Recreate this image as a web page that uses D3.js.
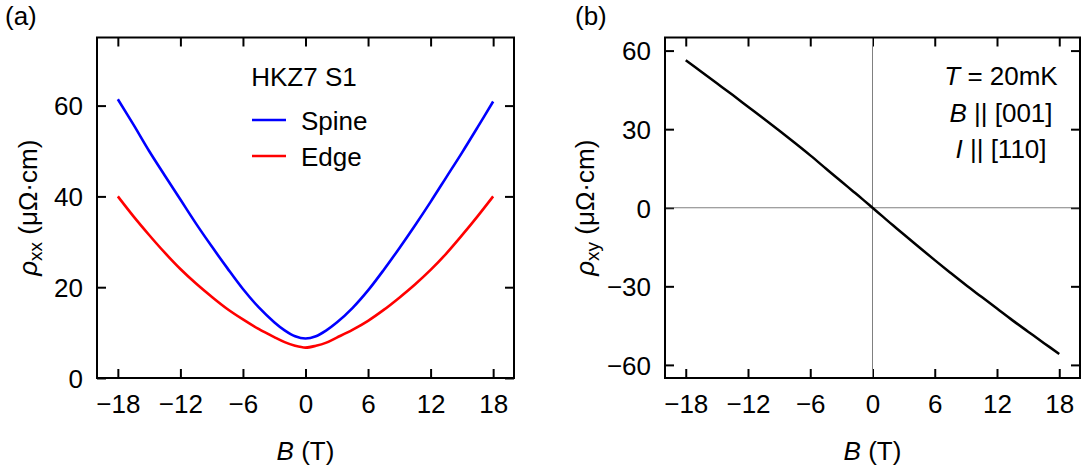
<!DOCTYPE html>
<meta charset="utf-8">
<script src="https://d3js.org/d3.v7.min.js"></script>
<style>
  body { margin: 0; background: #fff; }
  text { font-family: "Liberation Sans", Arial, sans-serif; fill: #000; }
</style>
<div id="chart"></div>
<script>
// field values (T)
var fields = [-18, -16.5, -15, -13.5, -12, -10.5, -9, -7.5, -6, -4.5, -3, -2, -1, 0,
              1, 2, 3, 4.5, 6, 7.5, 9, 10.5, 12, 13.5, 15, 16.5, 18];
// rho_xx, spine contact (uOhm cm)
var spine = [61.4, 55.8, 50.0, 44.6, 39.3, 34.0, 29.0, 24.2, 19.6, 15.6, 12.3, 10.5, 9.2, 8.7,
             9.2, 10.5, 12.2, 15.4, 19.3, 23.8, 28.6, 33.6, 38.8, 44.2, 49.6, 55.2, 60.9];
// rho_xx, edge contact
var edge = [40.0, 35.6, 31.5, 27.6, 24.0, 20.8, 17.9, 15.2, 12.9, 10.8, 9.0, 7.9, 7.1, 6.7,
            7.1, 7.8, 8.9, 10.6, 12.6, 15.0, 17.7, 20.6, 23.8, 27.4, 31.4, 35.6, 40.0];
// rho_xy
var hall = [56.3, 51.9, 47.5, 43.1, 38.6, 34.1, 29.5, 24.8, 20.0, 15.0, 10.0, 6.7, 3.4, 0,
            -3.4, -6.8, -10.1, -15.1, -20.0, -24.8, -29.5, -34.0, -38.5, -43.0, -47.3, -51.6, -55.8];

var xTicks = [-18, -12, -6, 0, 6, 12, 18];
var yTicksA = [0, 20, 40, 60];
var yTicksB = [-60, -30, 0, 30, 60];

var W = 1084, H = 472;
var svg = d3.select("#chart").append("svg")
    .attr("width", W).attr("height", H);

var fmt = function(d) { return d < 0 ? "\u2212" + Math.abs(d) : String(d); };

// draws frame, inward ticks on all four sides, labels
function panel(left, right, yDomain, yTicks) {
  var top = 37.5, bottom = 378;
  var x = d3.scaleLinear().domain([-20, 20]).range([left, right]);
  var y = d3.scaleLinear().domain(yDomain).range([bottom, top]);
  var g = svg.append("g");

  g.append("g").attr("transform", "translate(0," + bottom + ")")
    .call(d3.axisBottom(x).tickValues(xTicks).tickFormat(fmt).tickSizeInner(-9).tickSizeOuter(0).tickPadding(17));
  g.append("g").attr("transform", "translate(0," + top + ")")
    .call(d3.axisTop(x).tickValues(xTicks).tickFormat("").tickSizeInner(-9).tickSizeOuter(0));
  g.append("g").attr("transform", "translate(" + left + ",0)")
    .call(d3.axisLeft(y).tickValues(yTicks).tickFormat(fmt).tickSizeInner(-9).tickSizeOuter(0).tickPadding(14));
  g.append("g").attr("transform", "translate(" + right + ",0)")
    .call(d3.axisRight(y).tickValues(yTicks).tickFormat("").tickSizeInner(-9).tickSizeOuter(0));

  g.selectAll(".domain").remove();
  g.selectAll(".tick line").attr("stroke", "#000").attr("stroke-width", 2);
  g.selectAll(".tick text").style("font-size", "26px").attr("fill", "#000");
  g.selectAll(".tick text").filter(function() { return this.getAttribute("dy") === "0.32em"; })
    .attr("dy", "0.36em");

  g.append("rect")
    .attr("x", left).attr("y", top)
    .attr("width", right - left).attr("height", bottom - top)
    .attr("fill", "none").attr("stroke", "#000").attr("stroke-width", 2);

  g.append("text")
    .attr("x", (left + right) / 2 ).attr("y", 460)
    .attr("text-anchor", "middle").style("font-size", "26px")
    .html('<tspan font-style="italic">B</tspan> (T)');

  return { g: g, x: x, y: y, top: top, bottom: bottom };
}

// ---- panel (a)
var pa = panel(97, 514, [0, 75], yTicksA);

var lineA = d3.line()
  .x(function(d) { return pa.x(d[0]); })
  .y(function(d) { return pa.y(d[1]); })
  .curve(d3.curveCatmullRom.alpha(0.5));

pa.g.append("path")
  .datum(fields.map(function(b, i) { return [b, edge[i]]; }))
  .attr("d", lineA).attr("fill", "none").attr("stroke", "#ff0000").attr("stroke-width", 2.6);
pa.g.append("path")
  .datum(fields.map(function(b, i) { return [b, spine[i]]; }))
  .attr("d", lineA).attr("fill", "none").attr("stroke", "#0000ff").attr("stroke-width", 2.6);

pa.g.append("text").attr("x", 304).attr("y", 86)
  .attr("text-anchor", "middle").style("font-size", "26px").text("HKZ7 S1");

var legend = [{ name: "Spine", color: "#0000ff" }, { name: "Edge", color: "#ff0000" }];
legend.forEach(function(d, i) {
  var ly = 120 + i * 36;
  pa.g.append("line").attr("x1", 252).attr("x2", 286).attr("y1", ly).attr("y2", ly)
    .attr("stroke", d.color).attr("stroke-width", 2.5);
  pa.g.append("text").attr("x", 301).attr("y", ly + 9.5)
    .style("font-size", "26px").text(d.name);
});

pa.g.append("text")
  .attr("transform", "translate(37," + (pa.top + pa.bottom) / 2 + ") rotate(-90)")
  .attr("text-anchor", "middle").style("font-size", "26px")
  .html('<tspan font-style="italic">\u03C1</tspan><tspan font-size="19px" dy="5">xx</tspan><tspan dy="-5"> (\u03BC\u03A9\u00B7cm)</tspan>');

svg.append("text").attr("x", 5).attr("y", 25).style("font-size", "26px").text("(a)");

// ---- panel (b)
var pb = panel(665, 1080, [-65, 65], yTicksB);

// zero lines
pb.g.insert("line", "rect")
  .attr("x1", pb.x(0)).attr("x2", pb.x(0)).attr("y1", pb.top).attr("y2", pb.bottom)
  .attr("stroke", "#808080").attr("stroke-width", 1);
pb.g.insert("line", "rect")
  .attr("x1", 665).attr("x2", 1080).attr("y1", pb.y(0)).attr("y2", pb.y(0))
  .attr("stroke", "#808080").attr("stroke-width", 1);

var lineB = d3.line()
  .x(function(d) { return pb.x(d[0]); })
  .y(function(d) { return pb.y(d[1]); })
  .curve(d3.curveCatmullRom.alpha(0.5));

pb.g.append("path")
  .datum(fields.map(function(b, i) { return [b, hall[i]]; }))
  .attr("d", lineB).attr("fill", "none").attr("stroke", "#000").attr("stroke-width", 2.5);

var notes = [
  '<tspan font-style="italic">T</tspan> = 20mK',
  '<tspan font-style="italic">B</tspan> || [001]',
  '<tspan font-style="italic">I</tspan> || [110]'
];
notes.forEach(function(t, i) {
  pb.g.append("text").attr("x", 1001).attr("y", 85 + i * 36.5)
    .attr("text-anchor", "middle").style("font-size", "26px").html(t);
});

pb.g.append("text")
  .attr("transform", "translate(594," + (pb.top + pb.bottom) / 2 + ") rotate(-90)")
  .attr("text-anchor", "middle").style("font-size", "26px")
  .html('<tspan font-style="italic">\u03C1</tspan><tspan font-size="19px" dy="5">xy</tspan><tspan dy="-5"> (\u03BC\u03A9\u00B7cm)</tspan>');

svg.append("text").attr("x", 575).attr("y", 25).style("font-size", "26px").text("(b)");
</script>
